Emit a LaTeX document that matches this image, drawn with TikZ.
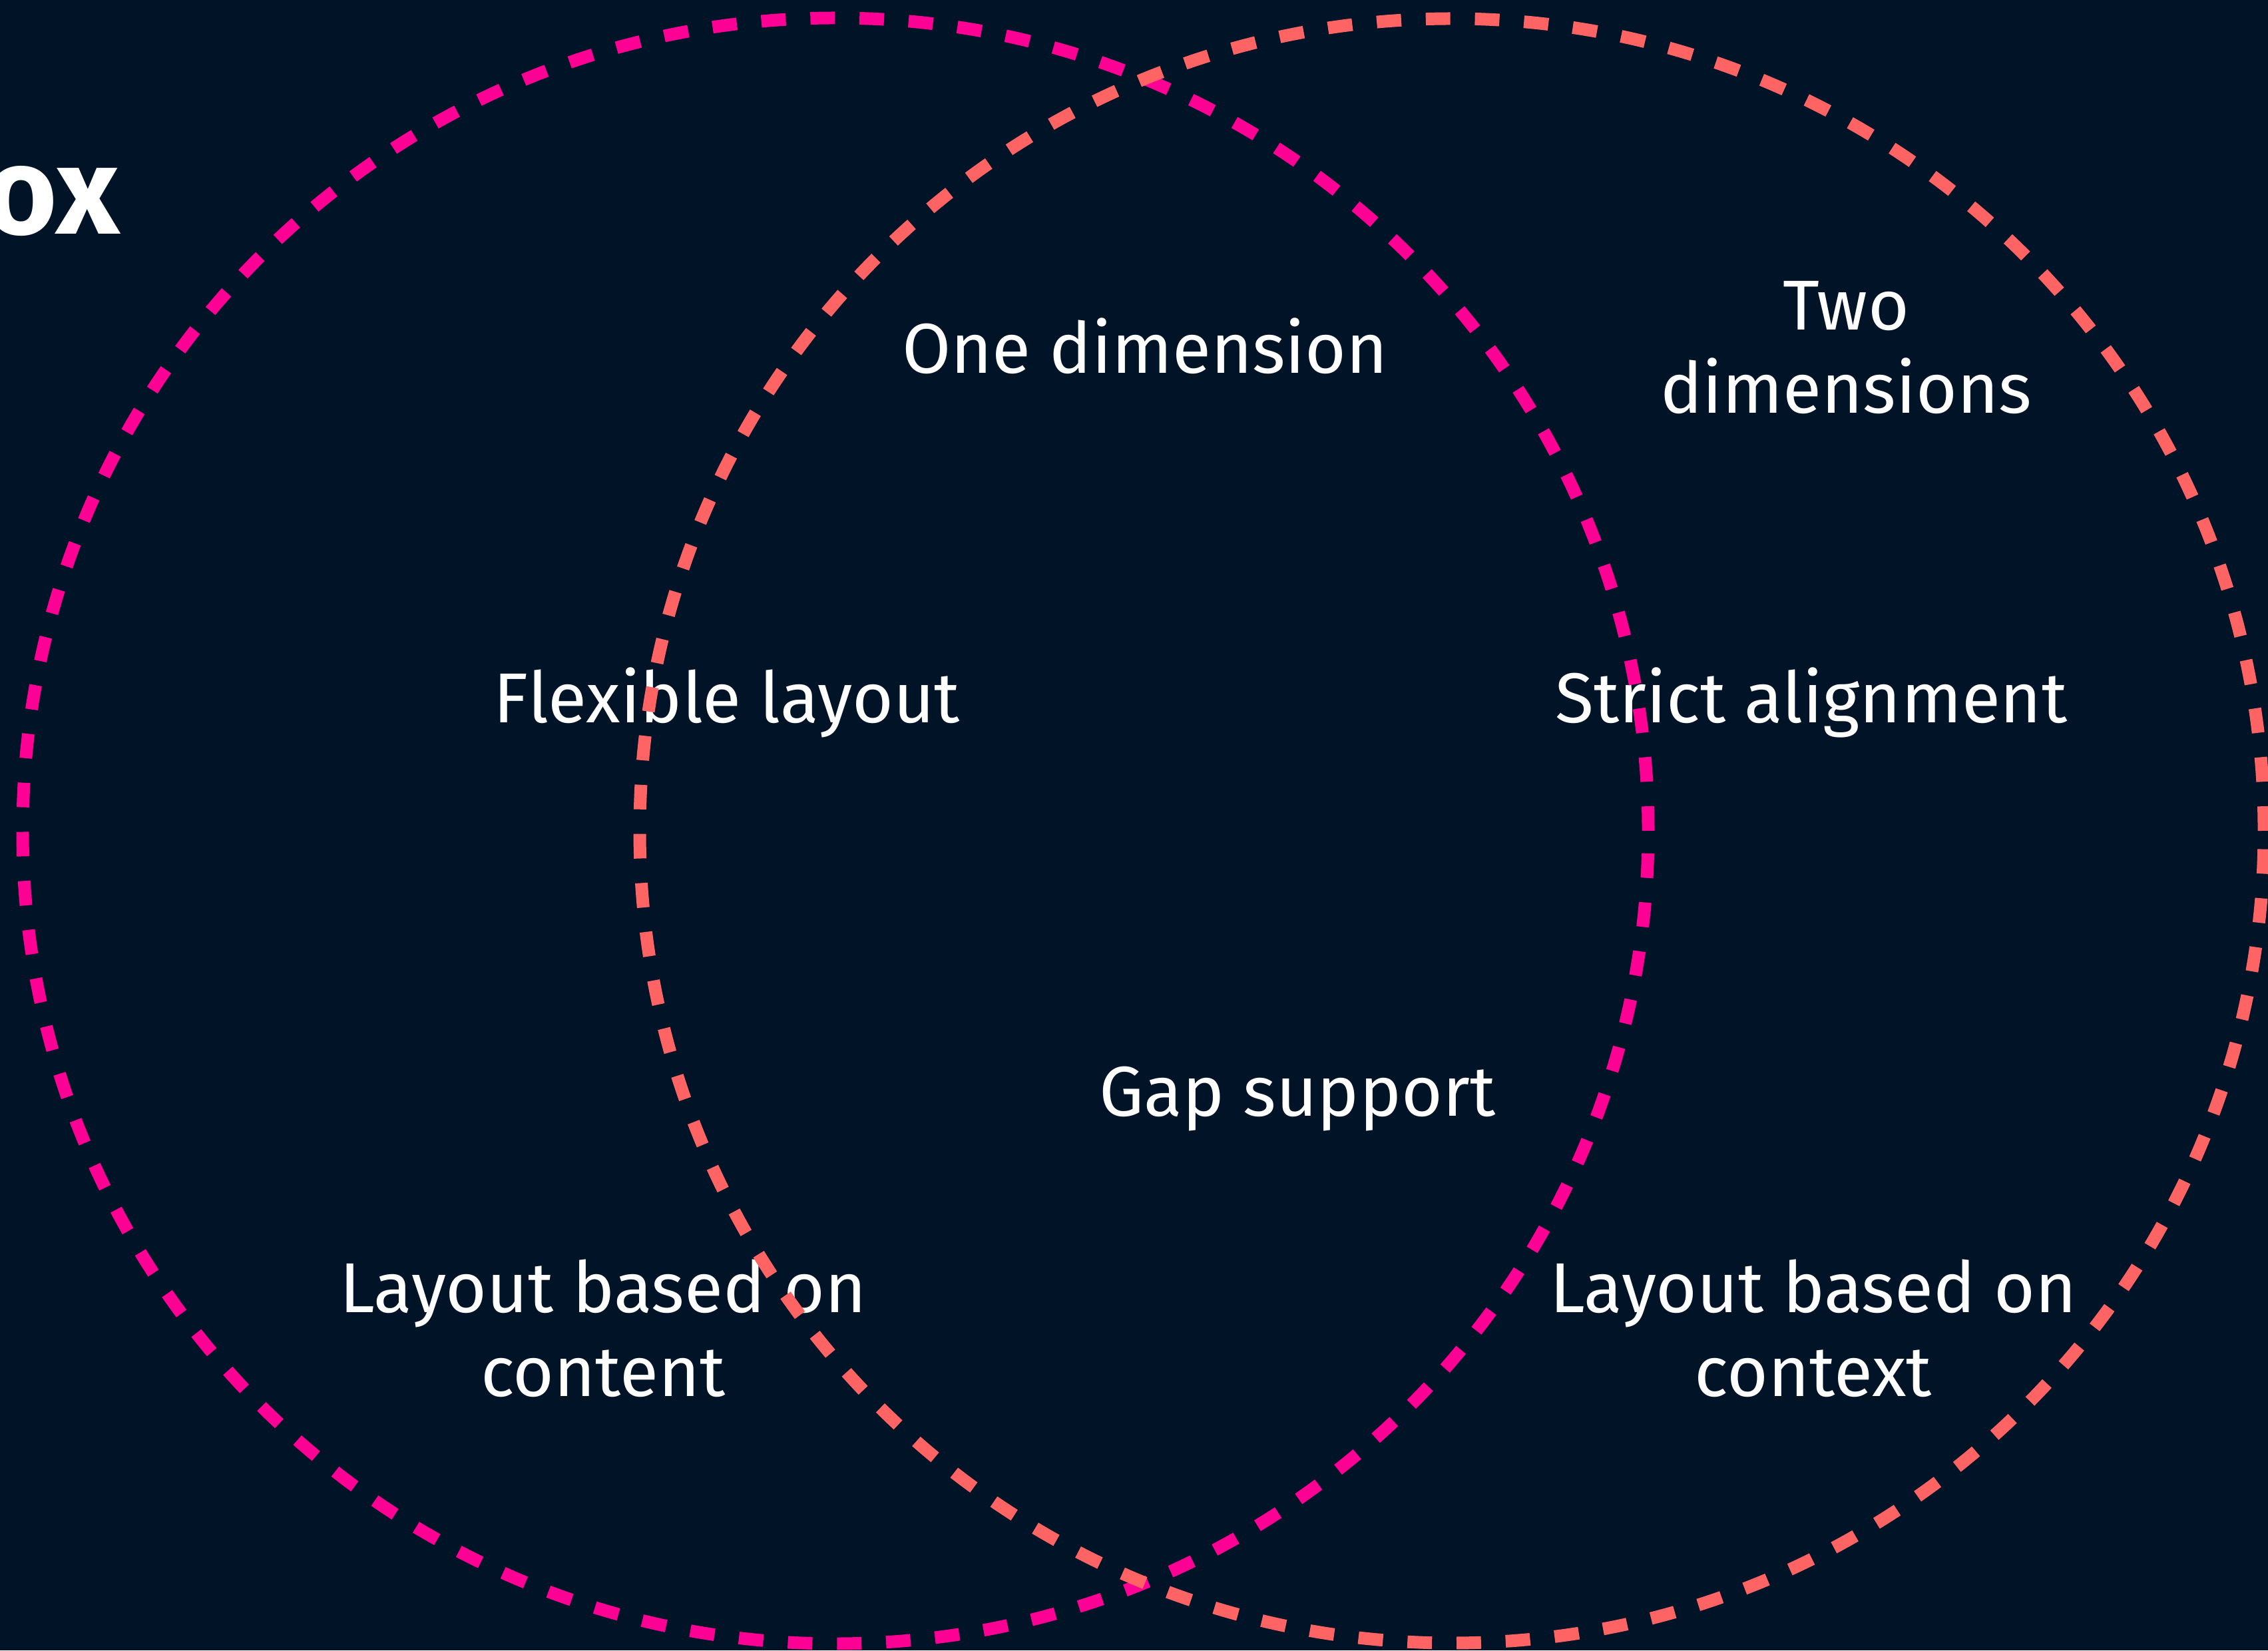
\documentclass[tikz,border=0pt]{standalone}
\usepackage{fontspec}
\setmainfont{Fira Sans}
\definecolor{navy}{HTML}{011427}
\definecolor{flexpink}{HTML}{FF0095}
\definecolor{gridred}{HTML}{FF6464}
\begin{document}
\begin{tikzpicture}[txt/.style={text=white,inner sep=0pt,anchor=base,align=center,font=\fontsize{30.2}{35.8}\selectfont},
ring/.style={line width=5.4pt,dash pattern=on 10.5pt off 10.5pt}]
\fill[navy] (0,0) rectangle (34.07,24.79);
\useasboundingbox (0,0) rectangle (34.07,24.79);

\node[text=white,inner sep=0pt,anchor=base east,font=\fontsize{53}{53}\selectfont\bfseries] at (1.80,21.27) (t1) {ox};

\node[txt] at (17.20,19.18) (b1) {One dimension};
\node[txt] at (27.73,18.58) (g1) {Two\\dimensions};
\node[txt] at (10.92,13.93) (f1) {Flexible layout};
\node[txt] at (27.21,13.93) (g2) {Strict alignment};
\node[txt] at (19.49,8.02) (b2) {Gap support};
\node[txt] at (9.06,3.82) (f2) {Layout based on\\content};
\node[txt] at (27.24,3.82) (g3) {Layout based on\\context};

\draw[ring,flexpink] (12.55,12.31) circle (12.21);
\draw[ring,gridred] (21.81,12.31) circle (12.20);
\end{tikzpicture}
\end{document}
